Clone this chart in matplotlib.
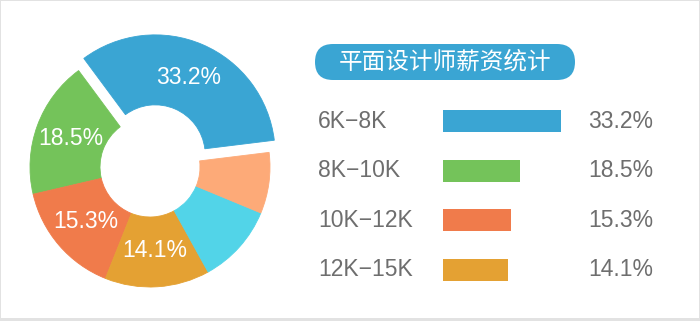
import matplotlib.pyplot as plt
from matplotlib.patches import FancyBboxPatch, Rectangle
from matplotlib.transforms import blended_transform_factory

plt.rcParams['font.family'] = ['Liberation Sans', 'Noto Sans CJK SC', 'DejaVu Sans']

# salary bands, counterclockwise from the exploded wedge
slice_values = [33.2, 18.5, 15.3, 14.1, 10.7, 8.2]
slice_colors = ['#3aa5d3', '#74c35a', '#f07b4b', '#e4a133', '#52d4e8', '#fdaa78']

# legend rows on the right
bands = ['6K−8K', '8K−10K', '10K−12K', '12K−15K']
band_values = [33.2, 18.5, 15.3, 14.1]
band_colors = ['#3aa5d3', '#74c35a', '#f07b4b', '#e4a133']

title = '平面设计师薪资统计'
grey = '#6e6e6e'
BAR_FLOOR = -9.4

W, H = 700, 321
fig = plt.figure(figsize=(W / 100, H / 100), dpi=100)
fig.patch.set_facecolor('#e2e2e2')

# pixel-space layer for the card, the title pill and the text columns
bg = fig.add_axes([0, 0, 1, 1], zorder=0)
bg.set_xlim(0, W)
bg.set_ylim(H, 0)
bg.axis('off')
bg.add_patch(Rectangle((1, 1), W - 2, H - 4, facecolor='white', edgecolor='none'))
bg.add_patch(FancyBboxPatch((315, 44), 260, 36,
                            boxstyle='round,pad=0,rounding_size=18',
                            facecolor='#3aa5d3', edgecolor='none'))
bg.text(445, 62.5, title, color='white', fontsize=17, ha='center', va='center',
        family=['Noto Sans CJK SC', 'DejaVu Sans'])

# donut
cx, cy, R = 150, 167, 120
box = 140
ax = fig.add_axes([(cx - box) / W, (H - cy - box) / H, 2 * box / W, 2 * box / H], zorder=1)
lim = box / R

wedges, _, autotexts = ax.pie(
    slice_values, colors=slice_colors, startangle=7, counterclock=True,
    explode=[0.11, 0, 0, 0, 0, 0], radius=1,
    autopct=lambda p: f'{p:.1f}%' if p > 12 else '', pctdistance=0.7,
    wedgeprops=dict(width=(R - 50) / R, linewidth=0.6),
    textprops=dict(color='white', fontsize=16.5))
for w in wedges:
    w.set_edgecolor(w.get_facecolor())
ax.set_xlim(-lim, lim)
ax.set_ylim(-lim, lim)
ax.axis('off')

# horizontal bars
row0, step = 121, 49.6
bar_left, bar_right = 443, 561
top = row0 - step / 2
bx = fig.add_axes([bar_left / W, (H - top - 4 * step) / H,
                   (bar_right - bar_left) / W, 4 * step / H], zorder=1)
rows = list(range(len(bands)))
bx.barh(rows, [v - BAR_FLOOR for v in band_values], left=BAR_FLOOR,
        height=22 / step, color=band_colors)
bx.set_xlim(BAR_FLOOR, max(band_values))
bx.set_ylim(len(bands) - 0.5, -0.5)
bx.axis('off')

tr = blended_transform_factory(bg.transData, bx.transData)
for i, (name, v) in enumerate(zip(bands, band_values)):
    bx.text(318, i, name, transform=tr, color=grey, fontsize=16.5,
            ha='left', va='center', clip_on=False)
    bx.text(588, i, f'{v:.1f}%', transform=tr, color=grey, fontsize=16.5,
            ha='left', va='center', clip_on=False)

fig.savefig('out.png', dpi=100, facecolor=fig.get_facecolor())
